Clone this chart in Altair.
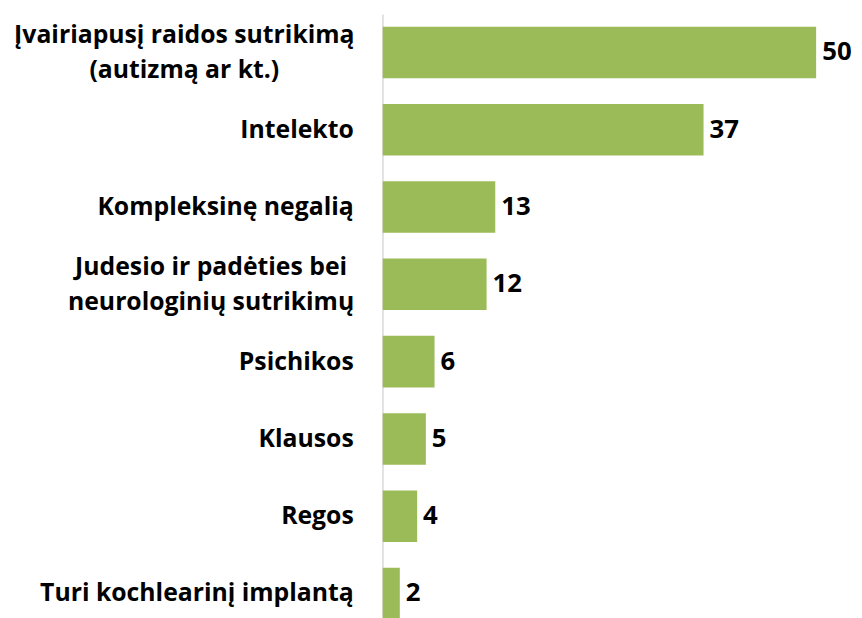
import altair as alt
import pandas as pd

categories = [
    "Įvairiapusį raidos sutrikimą\n(autizmą ar kt.)",
    "Intelekto",
    "Kompleksinę negalią",
    "Judesio ir padėties bei\nneurologinių sutrikimų",
    "Psichikos",
    "Klausos",
    "Regos",
    "Turi kochlearinį implantą",
]
values = [50, 37, 13, 12, 6, 5, 4, 2]

rows = []
for i, (c, v) in enumerate(zip(categories, values)):
    rows.append({"cat": c, "val": v, "pos": i, "lo": i - 1 / 3, "hi": i + 1 / 3})
df = pd.DataFrame(rows)

FONT = "Open Sans"
W = 438
H = 624
LH = 35
GAP = 29
y_scale = alt.Scale(domain=[-0.5, H / 78 - 0.5], reverse=True, nice=False, zero=False)
x_scale = alt.Scale(domain=[0, 50], nice=False)

base = alt.Chart(df)

bars = base.mark_bar(color="#9BBB59", clip=True).encode(
    x=alt.X("val:Q", scale=x_scale, axis=None),
    x2=alt.datum(0),
    y=alt.Y("lo:Q", scale=y_scale,
            axis=alt.Axis(labels=False, ticks=False, grid=False, title=None,
                          domainColor="#D9D9D9", domainWidth=1.5)),
    y2="hi:Q",
)

vals = base.mark_text(align="left", baseline="middle", dx=6, font=FONT,
                      fontWeight="bold", fontSize=26, color="black").encode(
    x=alt.X("val:Q", scale=x_scale),
    y=alt.Y("pos:Q", scale=y_scale),
    text="val:Q",
)

label_kw = dict(baseline="middle", font=FONT, fontWeight="bold",
                fontSize=25, color="black", lineBreak="\n", lineHeight=LH)

labels_single = base.transform_filter(
    "indexof(datum.cat, '\\n') < 0"
).mark_text(align="right", **label_kw).encode(
    x=alt.value(-GAP),
    y=alt.Y("pos:Q", scale=y_scale),
    text="cat:N",
)

# two-line labels: lines centred on each other, block right-aligned near the axis
labels_multi_a = base.transform_filter("datum.pos == 0").mark_text(
    align="center", dy=-LH / 2, **label_kw
).encode(
    x=alt.value(-GAP - 171),
    y=alt.Y("pos:Q", scale=y_scale),
    text="cat:N",
)

labels_multi_b = base.transform_filter("datum.pos == 3").mark_text(
    align="center", dy=-LH / 2, **label_kw
).encode(
    x=alt.value(-GAP - 144),
    y=alt.Y("pos:Q", scale=y_scale),
    text="cat:N",
)

chart = alt.layer(bars, vals, labels_single, labels_multi_a, labels_multi_b).properties(
    width=W, height=H,
    background="white",
    autosize=alt.AutoSizeParams(type="none"),
    padding={"left": 378, "top": 3, "right": 38, "bottom": 0},
).configure_view(strokeWidth=0)

chart.save("out.html", embed_options={"renderer": "svg", "actions": False})
